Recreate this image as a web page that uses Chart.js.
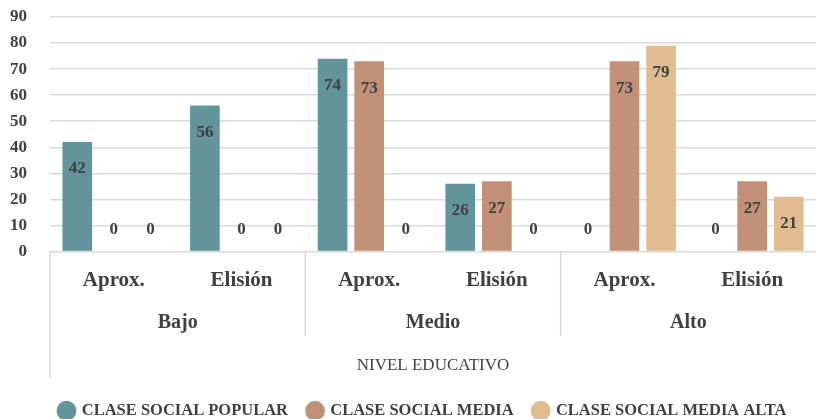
<!DOCTYPE html>
<html>
<head>
<meta charset="utf-8">
<script src="https://cdn.jsdelivr.net/npm/chart.js@4.4.1/dist/chart.umd.min.js"></script>
<style>
  html, body { margin: 0; padding: 0; background: #fff; }
  #wrap { width: 818px; height: 419px; position: relative; }
</style>
</head>
<body>
<div id="wrap"><canvas id="bar-chart"></canvas></div>
<script>
// data
var groups = ["Bajo", "Medio", "Alto"];
var subcats = ["Aprox.", "Elisión"];
var seriesNames = ["CLASE SOCIAL POPULAR", "CLASE SOCIAL MEDIA", "CLASE SOCIAL MEDIA ALTA"];
var popular = [42, 56, 74, 26, 0, 0];
var media = [0, 0, 73, 27, 73, 27];
var mediaAlta = [0, 0, 0, 0, 79, 21];
var yTicks = [0, 10, 20, 30, 40, 50, 60, 70, 80, 90];
var axisTitle = "NIVEL EDUCATIVO";

var serif = "'Liberation Serif', 'DejaVu Serif', serif";
var textColor = "#404040";
var lineColor = "#d9d9d9";

var labels = [];
groups.forEach(function (g) {
    subcats.forEach(function (s) { labels.push(s); });
});

// value labels on the bars
var valueLabels = {
    id: "valueLabels",
    afterDatasetsDraw: function (chart) {
        var ctx = chart.ctx;
        ctx.save();
        ctx.font = "bold 17px " + serif;
        ctx.fillStyle = textColor;
        ctx.textAlign = "center";
        ctx.textBaseline = "middle";
        chart.data.datasets.forEach(function (ds, i) {
            var meta = chart.getDatasetMeta(i);
            meta.data.forEach(function (bar, j) {
                var v = ds.data[j];
                var y = v > 0 ? bar.y + 27 : bar.y - 22;
                ctx.fillText(String(v), bar.x, y);
            });
        });
        ctx.restore();
    }
};

// group row + separator lines under the category axis
var groupAxis = {
    id: "groupAxis",
    afterLayout: function (chart) {
        // legend sits a bit right of centre in the original
        chart.legend.left += 15;
        chart.legend.right += 15;
    },
    afterDraw: function (chart) {
        var ctx = chart.ctx;
        var x = chart.scales.x;
        var area = chart.chartArea;
        var step = x.getPixelForValue(1) - x.getPixelForValue(0);
        ctx.save();
        ctx.strokeStyle = lineColor;
        ctx.lineWidth = 1.5;
        ctx.beginPath();
        ctx.moveTo(area.left, area.bottom);
        ctx.lineTo(area.left, 378);
        for (var g = 1; g < groups.length; g++) {
            var sx = x.getPixelForValue(g * subcats.length) - step / 2;
            ctx.moveTo(sx, area.bottom);
            ctx.lineTo(sx, 336);
        }
        ctx.stroke();

        ctx.font = "bold 20px " + serif;
        ctx.fillStyle = textColor;
        ctx.textAlign = "center";
        ctx.textBaseline = "middle";
        groups.forEach(function (g, i) {
            var a = x.getPixelForValue(i * subcats.length);
            var b = x.getPixelForValue(i * subcats.length + subcats.length - 1);
            ctx.fillText(g, (a + b) / 2, 323);
        });
        ctx.restore();
    }
};

var ctx = document.getElementById("bar-chart");

var data = {
    labels: labels,
    datasets: [
        {
            label: seriesNames[0],
            data: popular,
            backgroundColor: "#62949c"
        },
        {
            label: seriesNames[1],
            data: media,
            backgroundColor: "#c29076"
        },
        {
            label: seriesNames[2],
            data: mediaAlta,
            backgroundColor: "#e1bc8e"
        }
    ]
};

var options = {
    responsive: true,
    maintainAspectRatio: false,
    animation: false,
    layout: {
        padding: { top: 0, right: 2, left: 0, bottom: -10 }
    },
    datasets: {
        bar: {
            categoryPercentage: 0.86,
            barPercentage: 0.81
        }
    },
    scales: {
        x: {
            grid: { display: false },
            border: { display: false },
            ticks: {
                padding: 8,
                color: textColor,
                font: { family: serif, size: 21, weight: "bold" },
                maxRotation: 0
            },
            title: {
                display: true,
                text: axisTitle,
                color: textColor,
                font: { family: serif, size: 17 },
                padding: { top: 0, bottom: 7 }
            },
            afterFit: function (scale) { scale.height = 131; }
        },
        y: {
            min: 0,
            max: 90,
            afterBuildTicks: function (scale) {
                scale.ticks = yTicks.map(function (v) { return { value: v }; });
            },
            grid: { color: lineColor, lineWidth: 1.5, drawTicks: false },
            border: { display: false },
            ticks: {
                padding: 23,
                color: textColor,
                font: { family: serif, size: 17, weight: "bold" }
            },
            afterFit: function (scale) {
                scale.width = 50;
                scale.paddingTop = 17;
                scale.paddingBottom = 0;
            }
        }
    },
    plugins: {
        legend: {
            display: true,
            position: "bottom",
            labels: {
                usePointStyle: true,
                pointStyle: "circle",
                boxWidth: 14,
                boxHeight: 14,
                padding: 20,
                color: textColor,
                font: { family: serif, size: 16.5, weight: "bold" }
            }
        },
        tooltip: { enabled: false }
    }
};

new Chart(ctx, {
    type: "bar",
    data: data,
    options: options,
    plugins: [valueLabels, groupAxis]
});
</script>
</body>
</html>
